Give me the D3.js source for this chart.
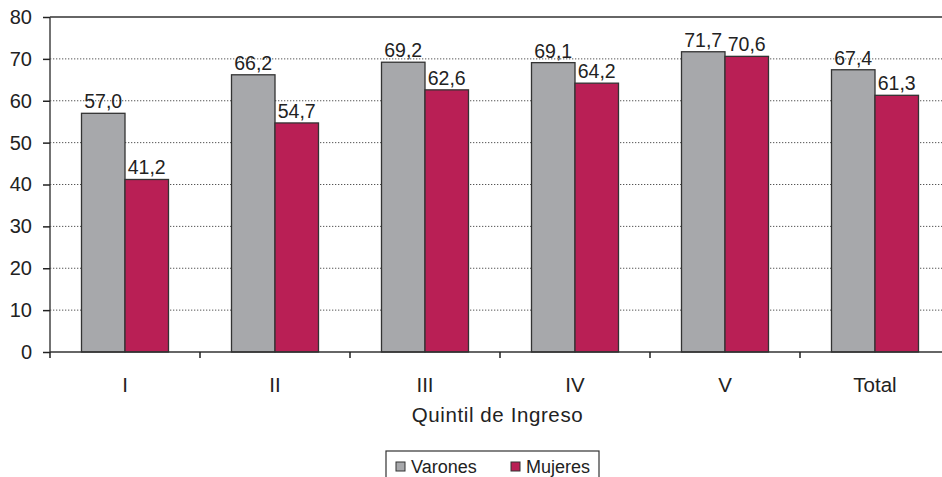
<!DOCTYPE html>
<html>
<head>
<meta charset="utf-8">
<script src="https://cdn.jsdelivr.net/npm/d3@7"></script>
<style>
  html, body { margin: 0; padding: 0; background: #fff; }
  svg { display: block; font-family: "Liberation Sans", Arial, sans-serif; }
</style>
</head>
<body>
<svg id="chart" width="942" height="477"></svg>
<script>
// Participation rate by income quintile and sex
const categories = ["I", "II", "III", "IV", "V", "Total"];
const seriesNames = ["Varones", "Mujeres"];
const varones = [57.0, 66.2, 69.2, 69.1, 71.7, 67.4];
const mujeres = [41.2, 54.7, 62.6, 64.2, 70.6, 61.3];
const yTicks = [0, 10, 20, 30, 40, 50, 60, 70, 80];
const colors = ["#a7a8ab", "#b91f55"];

const FONT = "Liberation Sans, Arial, sans-serif";
const svg = d3.select("#chart");
const margin = { left: 50, top: 17, right: -8, bottom: 125 };
const W = 942, H = 477;
const x0 = margin.left, x1 = W - margin.right;
const y0 = H - margin.bottom, y1 = margin.top;

const x = d3.scaleBand().domain(categories).range([x0, x1]).paddingInner(0).paddingOuter(0);
const y = d3.scaleLinear().domain([0, 80]).range([y0, y1]);
const groupW = 87;
const xs = d3.scaleBand().domain(seriesNames).range([0, groupW]);

const fmt = v => d3.format(".1f")(v).replace(".", ",");

// dotted gridlines
svg.append("g").selectAll("line").data(yTicks.filter(t => t > 0 && t < 80)).join("line")
  .attr("x1", x0).attr("x2", x1)
  .attr("y1", d => y(d)).attr("y2", d => y(d))
  .attr("stroke", "#555").attr("stroke-width", 1).attr("stroke-dasharray", "1.3,1.7");

// top frame line
svg.append("line").attr("x1", x0).attr("x2", x1).attr("y1", y(80)).attr("y2", y(80))
  .attr("stroke", "#333").attr("stroke-width", 1.5);

// bars
const rows = categories.map((c, i) => ({ c, vals: [varones[i], mujeres[i]] }));
const groups = svg.append("g").selectAll("g").data(rows).join("g")
  .attr("transform", d => `translate(${x(d.c) + (x.bandwidth() - groupW) / 2},0)`);
groups.selectAll("rect").data(d => d.vals.map((v, k) => ({ v, k }))).join("rect")
  .attr("x", d => xs(seriesNames[d.k]))
  .attr("width", xs.bandwidth())
  .attr("y", d => y(d.v))
  .attr("height", d => y(0) - y(d.v))
  .attr("fill", d => colors[d.k])
  .attr("stroke", "#333").attr("stroke-width", 1.3);
groups.selectAll("text").data(d => d.vals.map((v, k) => ({ v, k }))).join("text")
  .attr("x", d => xs(seriesNames[d.k]) + xs.bandwidth() / 2)
  .attr("y", d => y(d.v) - 5)
  .attr("text-anchor", "middle")
  .attr("font-size", 19.5).attr("fill", "#222")
  .text(d => fmt(d.v));

// y axis
const yAxis = svg.append("g").attr("transform", `translate(${x0},0)`)
  .call(d3.axisLeft(y).tickValues(yTicks).tickSize(7).tickPadding(11).tickFormat(d3.format("d")));
yAxis.attr("font-size", 20).attr("font-family", FONT);
yAxis.selectAll("text").attr("fill", "#222");
yAxis.selectAll("line").attr("stroke", "#222").attr("stroke-width", 1.5);
yAxis.select(".domain").attr("stroke", "#444").attr("stroke-width", 1.5).attr("d", `M0,${y0}V${y1}`);

// x axis
const xAxis = svg.append("g").attr("transform", `translate(0,${y0})`)
  .call(d3.axisBottom(x).tickSize(0).tickPadding(25));
xAxis.attr("font-size", 20.5).attr("font-family", FONT);
xAxis.select(".domain").attr("stroke", "#333").attr("stroke-width", 1.5).attr("d", `M${x0},0H${x1}`);
xAxis.selectAll("text").attr("fill", "#222");
// boundary ticks between categories
svg.append("g").selectAll("line").data(categories).join("line")
  .attr("x1", d => x(d)).attr("x2", d => x(d))
  .attr("y1", y0).attr("y2", y0 + 6)
  .attr("stroke", "#222").attr("stroke-width", 1.5);

// axis title
svg.append("text").attr("x", 497.5).attr("y", 422)
  .attr("text-anchor", "middle").attr("font-size", 20.5).attr("letter-spacing", 0.6).attr("fill", "#222")
  .text("Quintil de Ingreso");

// legend
const lg = svg.append("g").attr("transform", "translate(386,451)");
lg.append("rect").attr("x", 0).attr("y", 0).attr("width", 213).attr("height", 40)
  .attr("fill", "#fff").attr("stroke", "#333").attr("stroke-width", 1.2);
const items = [{ name: seriesNames[0], dx: 10 }, { name: seriesNames[1], dx: 125 }];
items.forEach((it, k) => {
  lg.append("rect").attr("x", it.dx).attr("y", 11).attr("width", 9).attr("height", 9)
    .attr("fill", colors[k]).attr("stroke", "#333").attr("stroke-width", 1);
  lg.append("text").attr("x", it.dx + 15).attr("y", 22).attr("font-size", 18).attr("fill", "#222")
    .text(it.name);
});
</script>
</body>
</html>
